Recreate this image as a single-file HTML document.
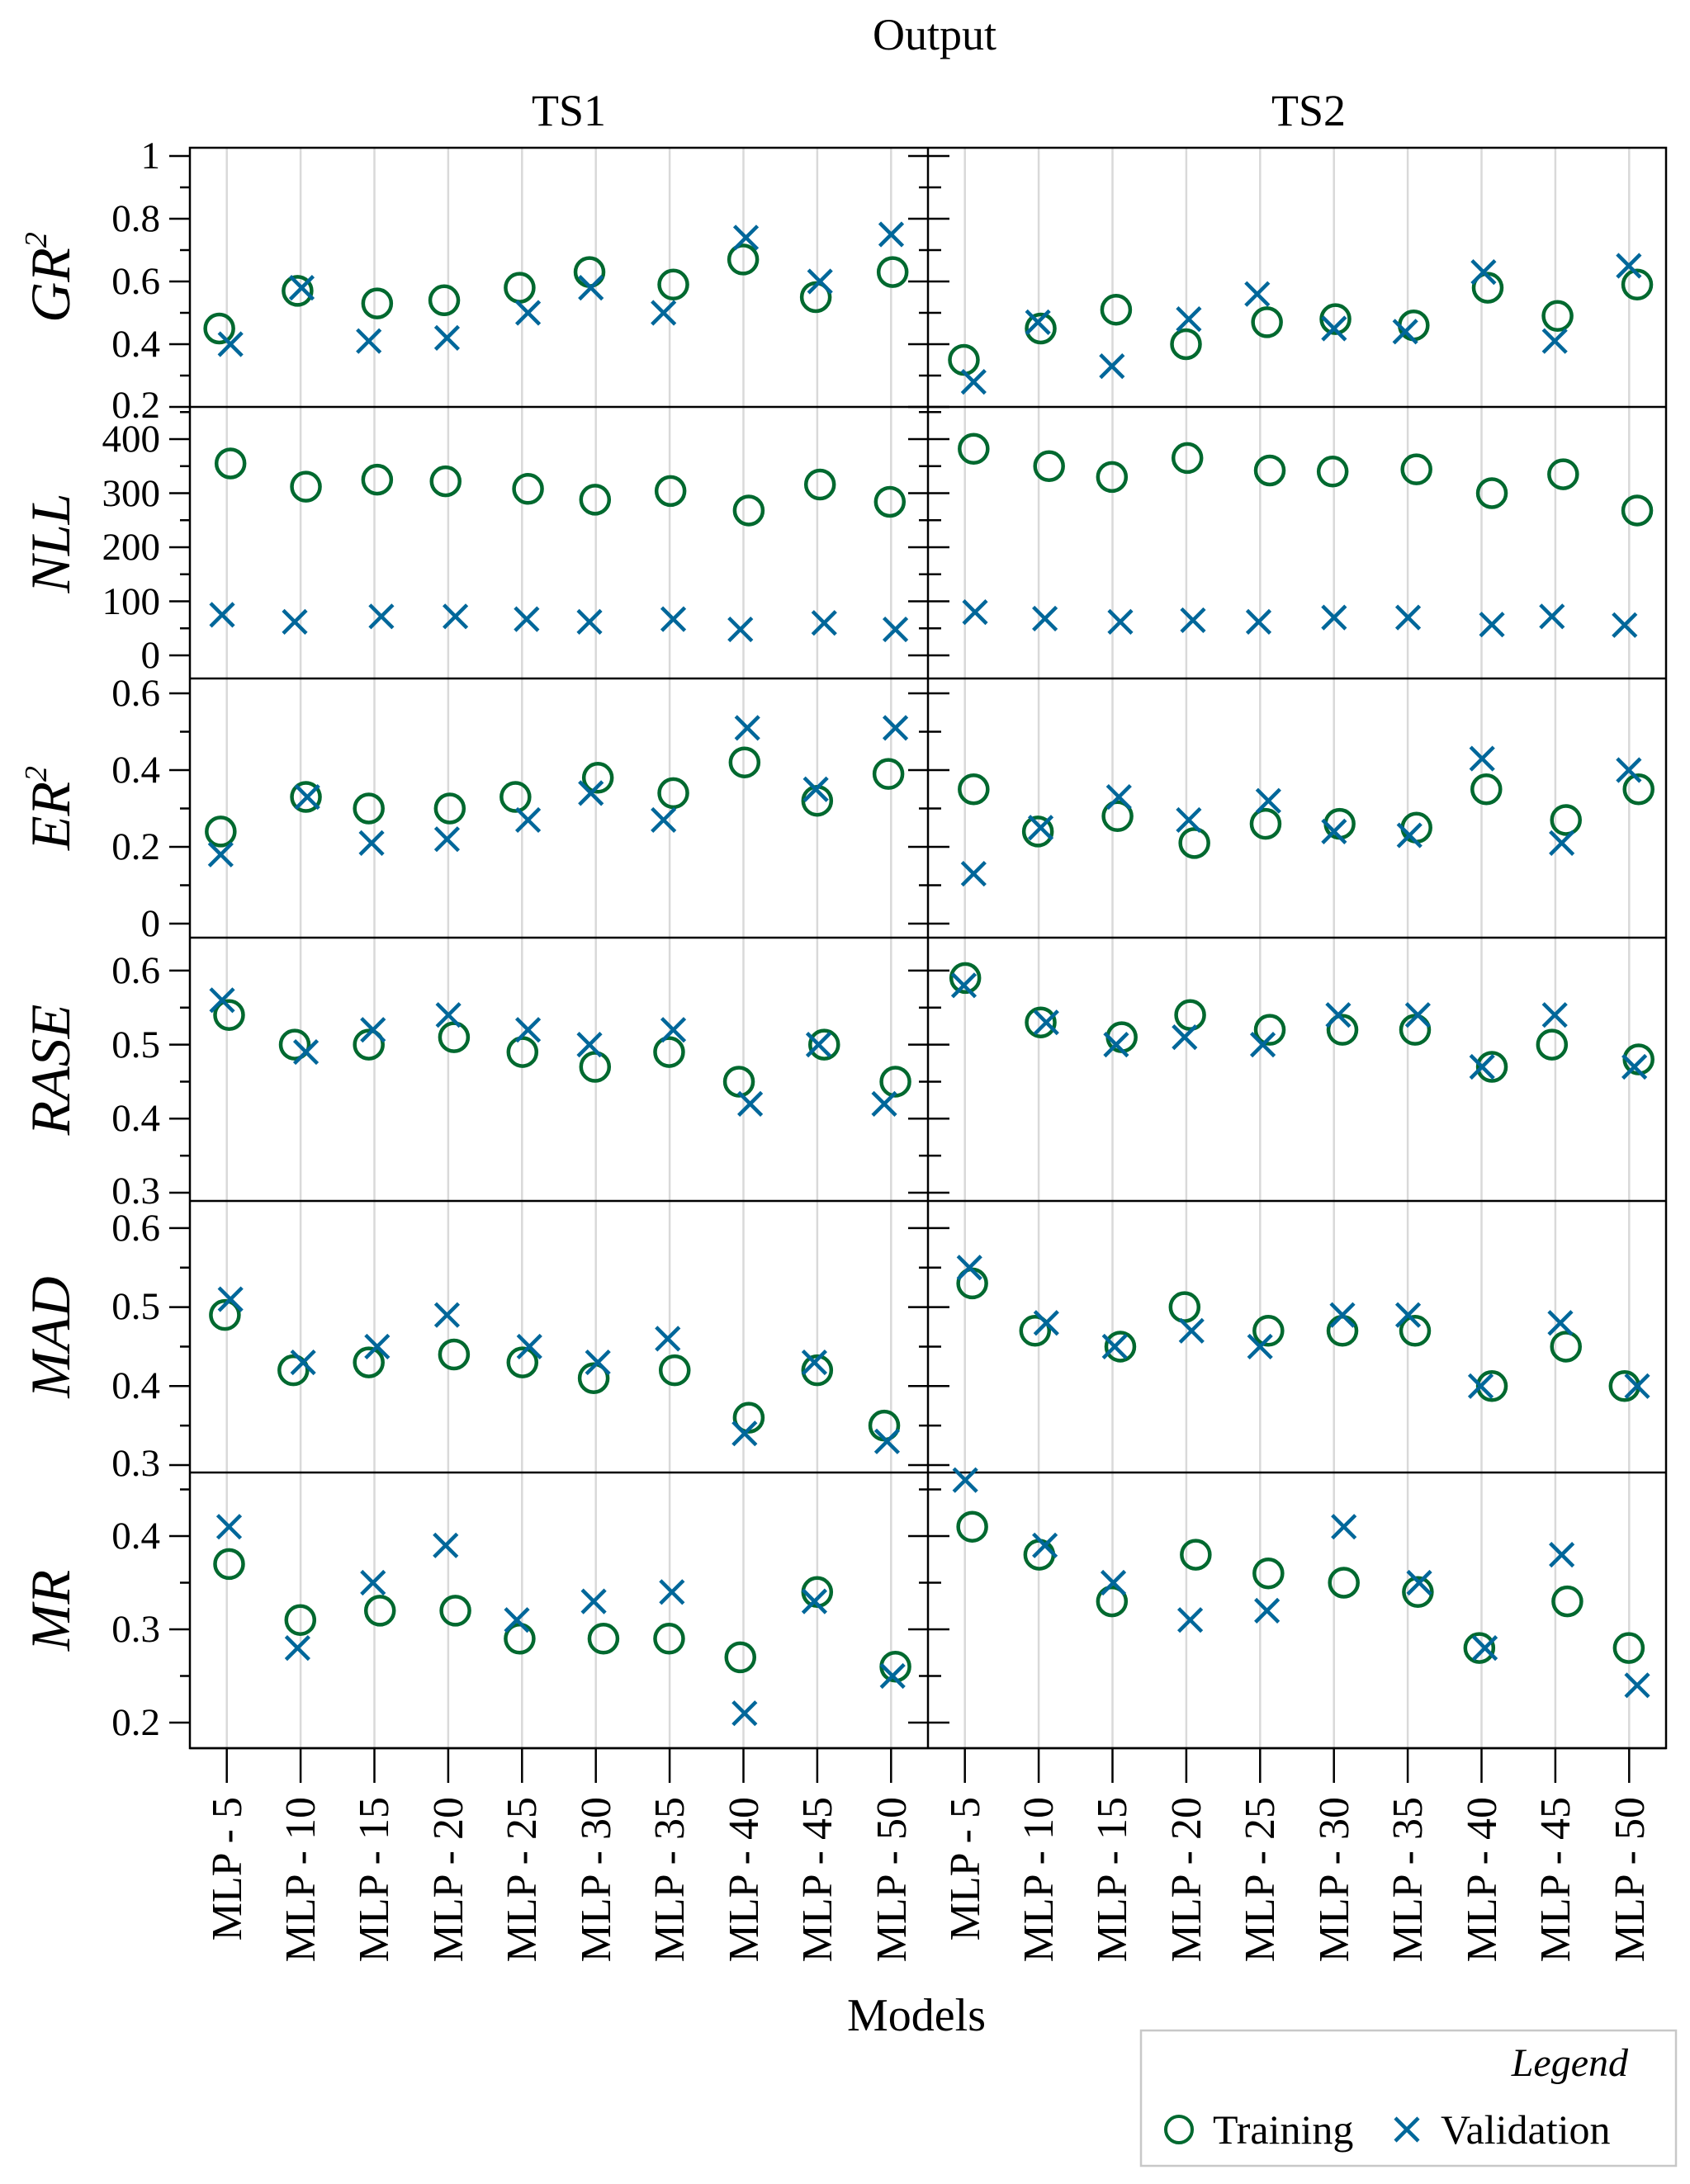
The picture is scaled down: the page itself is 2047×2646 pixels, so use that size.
<!DOCTYPE html>
<html><head><meta charset="utf-8"><style>
html,body{margin:0;padding:0;background:#fff}
svg{display:block;font-family:"Liberation Serif",serif}
</style></head><body>
<svg id="s" width="2047" height="2646" viewBox="0 0 2047 2646" xmlns="http://www.w3.org/2000/svg">
<rect width="2047" height="2646" fill="#fff"/>
<g id="grid"></g>
<g id="axes" stroke="#000" stroke-width="2.5" fill="none"></g>
<g id="marks"></g>
<g font-size="54" text-anchor="middle" fill="#000">
<text x="1132" y="60">Output</text>
<text x="689" y="152">TS1</text>
<text x="1585" y="152">TS2</text>
<text x="1110" y="2460" font-size="56">Models</text>
</g>
<g font-size="68" font-style="italic" text-anchor="middle" fill="#000">
<text transform="translate(84,336) rotate(-90)">GR<tspan font-size="38" dy="-28">2</tspan></text>
<text transform="translate(84,658) rotate(-90)">NLL</text>
<text transform="translate(84,979) rotate(-90)">ER<tspan font-size="38" dy="-28">2</tspan></text>
<text transform="translate(84,1296) rotate(-90)">RASE</text>
<text transform="translate(84,1620) rotate(-90)">MAD</text>
<text transform="translate(84,1951) rotate(-90)">MR</text>
</g>
<g font-size="47" text-anchor="end" fill="#000">
<text x="194" y="204">1</text><text x="194" y="280">0.8</text><text x="194" y="356">0.6</text><text x="194" y="432">0.4</text><text x="194" y="506">0.2</text>
<text x="194" y="547">400</text><text x="194" y="613">300</text><text x="194" y="678">200</text><text x="194" y="744">100</text><text x="194" y="809">0</text>
<text x="194" y="855">0.6</text><text x="194" y="948">0.4</text><text x="194" y="1041">0.2</text><text x="194" y="1134">0</text>
<text x="194" y="1191">0.6</text><text x="194" y="1281">0.5</text><text x="194" y="1370">0.4</text><text x="194" y="1458">0.3</text>
<text x="194" y="1503">0.6</text><text x="194" y="1598">0.5</text><text x="194" y="1694">0.4</text><text x="194" y="1788">0.3</text>
<text x="194" y="1876">0.4</text><text x="194" y="1989">0.3</text><text x="194" y="2102">0.2</text>
</g>
<g font-size="52" text-anchor="end" fill="#000">
<text transform="translate(292,2177) rotate(-90)">MLP - 5</text>
<text transform="translate(381,2177) rotate(-90)">MLP - 10</text>
<text transform="translate(470,2177) rotate(-90)">MLP - 15</text>
<text transform="translate(560,2177) rotate(-90)">MLP - 20</text>
<text transform="translate(649,2177) rotate(-90)">MLP - 25</text>
<text transform="translate(739,2177) rotate(-90)">MLP - 30</text>
<text transform="translate(828,2177) rotate(-90)">MLP - 35</text>
<text transform="translate(918,2177) rotate(-90)">MLP - 40</text>
<text transform="translate(1007,2177) rotate(-90)">MLP - 45</text>
<text transform="translate(1097,2177) rotate(-90)">MLP - 50</text>
<text transform="translate(1186,2177) rotate(-90)">MLP - 5</text>
<text transform="translate(1275,2177) rotate(-90)">MLP - 10</text>
<text transform="translate(1364,2177) rotate(-90)">MLP - 15</text>
<text transform="translate(1454,2177) rotate(-90)">MLP - 20</text>
<text transform="translate(1543,2177) rotate(-90)">MLP - 25</text>
<text transform="translate(1633,2177) rotate(-90)">MLP - 30</text>
<text transform="translate(1722,2177) rotate(-90)">MLP - 35</text>
<text transform="translate(1812,2177) rotate(-90)">MLP - 40</text>
<text transform="translate(1901,2177) rotate(-90)">MLP - 45</text>
<text transform="translate(1991,2177) rotate(-90)">MLP - 50</text>
</g>
<rect x="1382" y="2460" width="648" height="164" fill="#fff" stroke="#c8c8c8" stroke-width="2.5"/>
<text x="1972" y="2515" font-size="48" font-style="italic" text-anchor="end">Legend</text>
<circle cx="1428" cy="2580" r="16" fill="none" stroke="#00692f" stroke-width="4"/>
<text x="1469" y="2597" font-size="50">Training</text>
<path d="M1690 2566 L1718 2594 M1718 2566 L1690 2594" stroke="#00679a" stroke-width="4.5"/>
<text x="1745" y="2597" font-size="50">Validation</text>
</svg>
<script>
var NS="http://www.w3.org/2000/svg";
function el(p,t,a){var e=document.createElementNS(NS,t);for(var k in a)e.setAttribute(k,a[k]);p.appendChild(e);return e;}
var grid=document.getElementById('grid'),axes=document.getElementById('axes'),marks=document.getElementById('marks');
var L=230,M=1124,R=2018,sp=89.4;
var rows=[
 {t:179,b:493,y:function(v){return 493-(v-0.2)/0.2*76},maj:[0.2,0.4,0.6,0.8,1],min:[0.3,0.5,0.7,0.9]},
 {t:493,b:822,y:function(v){return 794-v*0.655},maj:[0,100,200,300,400],min:[50,150,250,350,450]},
 {t:822,b:1136,y:function(v){return 1119-v*465},maj:[0,0.2,0.4,0.6],min:[0.1,0.3,0.5]},
 {t:1136,b:1455,y:function(v){return 1445-(v-0.3)*897},maj:[0.3,0.4,0.5,0.6],min:[0.35,0.45,0.55]},
 {t:1455,b:1784,y:function(v){return 1775-(v-0.3)*957},maj:[0.3,0.4,0.5,0.6],min:[0.35,0.45,0.55]},
 {t:1784,b:2118,y:function(v){return 2087-(v-0.2)*1130},maj:[0.2,0.3,0.4],min:[0.25,0.35,0.45]}
];
for(var c=0;c<2;c++){var x0=c?M:L;for(var i=0;i<10;i++){var gx=x0+(i+0.5)*sp;
 el(grid,'line',{x1:gx,y1:179,x2:gx,y2:2118,stroke:'#d9d9d9','stroke-width':2.5});
 el(axes,'line',{x1:gx,y1:2118,x2:gx,y2:2160});}}
el(axes,'rect',{x:L,y:179,width:R-L,height:2118-179});
el(axes,'line',{x1:M,y1:179,x2:M,y2:2118});
rows.forEach(function(r){
 el(axes,'line',{x1:L,y1:r.b,x2:R,y2:r.b});
 r.maj.forEach(function(v){var y=r.y(v);if(y<r.t-1||y>r.b+1)return;
  el(axes,'line',{x1:205,y1:y,x2:L,y2:y});el(axes,'line',{x1:1100,y1:y,x2:1150,y2:y});});
 r.min.forEach(function(v){var y=r.y(v);if(y<r.t-1||y>r.b+1)return;
  el(axes,'line',{x1:218,y1:y,x2:L,y2:y});el(axes,'line',{x1:1113,y1:y,x2:1140,y2:y});});
});
var S=1.692;
var D=[
[[.45,157,.40,165],[.57,213,.58,216],[.53,270,.41,264],[.54,318,.42,320],[.58,372,.50,378],[.63,422,.58,423],[.59,482,.50,475],[.67,532,.74,534],[.55,584,.60,587],[.63,639,.75,638],
 [.35,690,.28,697],[.45,745,.47,743],[.51,799,.33,796],[.40,849,.48,851],[.47,907,.56,900],[.48,956,.45,955],[.46,1012,.44,1006],[.58,1065,.63,1062],[.49,1115,.41,1113],[.59,1172,.65,1166]],
[[355,165,75,159],[312,219,62,211],[325,270,72,273],[322,319,72,326],[308,378,67,377],[288,426,62,422],[304,480,67,482],[268,536,48,530],[316,587,60,590],[284,637,48,641],
 [382,697,80,698],[350,751,68,748],[330,796,62,802],[365,850,65,854],[342,909,62,901],[340,954,70,955],[344,1014,70,1008],[300,1068,57,1068],[335,1119,72,1111],[268,1172,56,1163]],
[[.24,158,.18,158],[.33,219,.33,220],[.30,264,.21,266],[.30,322,.22,320],[.33,369,.27,378],[.38,428,.34,423],[.34,482,.27,475],[.42,533,.51,535],[.32,585,.35,584],[.39,636,.51,641],
 [.35,697,.13,697],[.24,743,.25,745],[.28,800,.33,801],[.21,855,.27,851],[.26,906,.32,908],[.26,959,.24,955],[.25,1014,.23,1009],[.35,1064,.43,1061],[.27,1121,.21,1118],[.35,1173,.40,1166]],
[[.54,164,.56,159],[.50,211,.49,219],[.50,264,.52,267],[.51,325,.54,321],[.49,374,.52,378],[.47,426,.50,422],[.49,479,.52,482],[.45,529,.42,537],[.50,590,.50,586],[.45,641,.42,633],
 [.59,691,.58,690],[.53,745,.53,749],[.51,803,.50,799],[.54,852,.51,848],[.52,909,.50,904],[.52,961,.54,958],[.52,1013,.54,1015],[.47,1068,.47,1061],[.50,1111,.54,1113],[.48,1173,.47,1170]],
[[.49,161,.51,165],[.42,210,.43,217],[.43,264,.45,270],[.44,325,.49,320],[.43,374,.45,379],[.41,425,.43,428],[.42,483,.46,478],[.36,536,.34,533],[.42,585,.43,583],[.35,633,.33,635],
 [.53,696,.55,694],[.47,741,.48,749],[.45,802,.45,798],[.50,848,.47,853],[.47,908,.45,902],[.47,961,.49,961],[.47,1013,.49,1008],[.40,1068,.40,1060],[.45,1121,.48,1117],[.40,1163,.40,1172]],
[[.37,164,.41,164],[.31,215,.28,213],[.32,272,.35,267],[.32,326,.39,319],[.29,372,.31,370],[.29,432,.33,425],[.29,479,.34,481],[.27,530,.21,533],[.34,585,.33,583],[.26,641,.25,639],
 [.41,696,.46,691],[.38,744,.39,748],[.33,796,.35,797],[.38,856,.31,852],[.36,908,.32,907],[.35,962,.41,962],[.34,1015,.35,1016],[.28,1059,.28,1063],[.33,1122,.38,1118],[.28,1166,.24,1172]]
];
D.forEach(function(pts,ri){var r=rows[ri];pts.forEach(function(p){
 var cx=p[1]*S,cy=r.y(p[0]);
 el(marks,'circle',{cx:cx,cy:cy,r:17,fill:'none',stroke:'#00692f','stroke-width':4.5});
 var xx=p[3]*S,xy=r.y(p[2]),h=14;
 el(marks,'path',{d:'M'+(xx-h)+' '+(xy-h)+' L'+(xx+h)+' '+(xy+h)+' M'+(xx+h)+' '+(xy-h)+' L'+(xx-h)+' '+(xy+h),stroke:'#00679a','stroke-width':4.5,fill:'none'});
});});
</script>
</body></html>
